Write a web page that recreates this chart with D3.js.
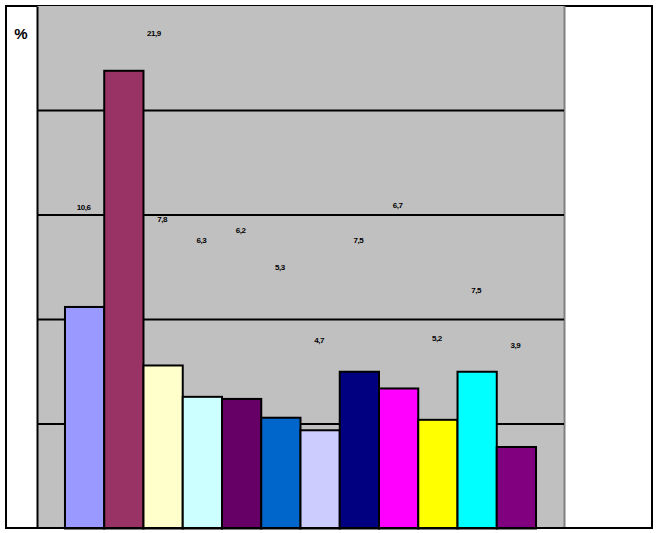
<!DOCTYPE html>
<html>
<head>
<meta charset="utf-8">
<script src="https://cdn.jsdelivr.net/npm/d3@7"></script>
<style>
  html, body { margin: 0; padding: 0; background: #fff; }
  svg { display: block; }
</style>
</head>
<body>
<script>
// ---- data ----
const series = ["S1","S2","S3","S4","S5","S6","S7","S8","S9","S10","S11","S12"];
const values = [10.6, 21.9, 7.8, 6.3, 6.2, 5.3, 4.7, 7.5, 6.7, 5.2, 7.5, 3.9];
const labelValues = [15.4, 23.7, 14.8, 13.8, 14.3, 12.5, 9.0, 13.8, 15.5, 9.1, 11.4, 8.8];
const colors = ["#9999FF","#993366","#FFFFCC","#CCFFFF","#660066","#0066CC","#CCCCFF","#000080","#FF00FF","#FFFF00","#00FFFF","#800080"];
const yTicks = [0, 5, 10, 15, 20, 25];
const yMax = 25;
const unitLabel = "%";

// ---- layout ----
const W = 658, H = 533;
const plot = { left: 37, right: 564, top: 6, bottom: 528.5 };

const svg = d3.select("body").append("svg").attr("width", W).attr("height", H);

// outer frame
svg.append("rect").attr("x", 6).attr("y", 6).attr("width", 646).attr("height", 522)
  .attr("fill", "#fff").attr("stroke", "#000").attr("stroke-width", 2);

const y = d3.scaleLinear().domain([0, yMax]).range([plot.bottom, plot.top]);
const x0 = d3.scaleBand().domain(["all"]).range([plot.left, plot.right]).paddingInner(0).paddingOuter(0.0594);
const x1 = d3.scaleBand().domain(series).range([x0("all"), x0("all") + x0.bandwidth()]).padding(0);

// plot area background
svg.append("rect").attr("x", plot.left).attr("y", plot.top)
  .attr("width", plot.right - plot.left).attr("height", plot.bottom - plot.top)
  .attr("fill", "#C0C0C0");
// right edge of plot area
svg.append("line").attr("x1", plot.right + 0.5).attr("x2", plot.right + 0.5)
  .attr("y1", plot.top).attr("y2", plot.bottom).attr("stroke", "#808080").attr("stroke-width", 2);

// gridlines
svg.append("g").selectAll("line").data(yTicks.filter(t => t > 0 && t < yMax)).join("line")
  .attr("x1", plot.left).attr("x2", plot.right)
  .attr("y1", d => y(d)).attr("y2", d => y(d))
  .attr("stroke", "#000").attr("stroke-width", 2);

// y axis (no labels)
const yAxis = d3.axisLeft(y).tickValues(yTicks).tickSize(0).tickFormat("");
svg.append("g").attr("transform", `translate(${plot.left},0)`).call(yAxis)
  .call(g => g.select(".domain").attr("stroke", "#000").attr("stroke-width", 2));

// bars
svg.append("g").selectAll("rect").data(values).join("rect")
  .attr("x", (d, i) => x1(series[i]))
  .attr("y", d => y(d))
  .attr("width", x1.bandwidth())
  .attr("height", d => y(0) - y(d))
  .attr("fill", (d, i) => colors[i])
  .attr("stroke", "#000").attr("stroke-width", 2);

// bottom axis line
svg.append("line").attr("x1", 6).attr("x2", 652).attr("y1", 528).attr("y2", 528)
  .attr("stroke", "#000").attr("stroke-width", 2);

// value labels
svg.append("g").selectAll("text").data(values).join("text")
  .attr("x", (d, i) => x1(series[i]) + x1.bandwidth() / 2 + (i === 1 ? 30 : -1))
  .attr("y", (d, i) => y(labelValues[i]) + 3)
  .attr("text-anchor", "middle")
  .attr("font-family", "Liberation Sans, Arial, sans-serif")
  .attr("font-size", 8).attr("font-weight", "bold")
  .attr("letter-spacing", -0.5)
  .attr("fill", "#000")
  .text(d => d3.format(".1f")(d).replace(".", ","));

// unit label
svg.append("text").attr("x", 21).attr("y", 39).attr("text-anchor", "middle")
  .attr("font-family", "Liberation Sans, Arial, sans-serif")
  .attr("font-size", 15).attr("font-weight", "bold").text(unitLabel);
</script>
</body>
</html>
